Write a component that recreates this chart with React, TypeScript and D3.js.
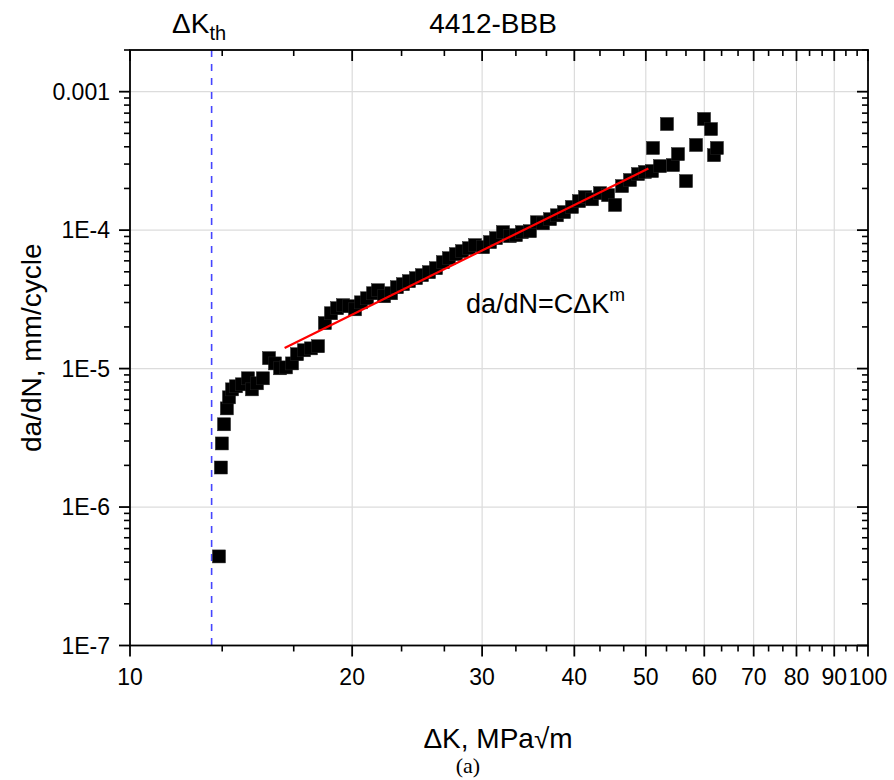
import React from 'react';
import * as d3 from 'd3';

// ΔK (MPa√m) and da/dN (mm/cycle)
const dk = [
  13.2, 13.28, 13.32, 13.41, 13.53, 13.62, 13.75, 13.92, 14.18, 14.45,
  14.63, 14.86, 15.14, 15.43, 15.72, 15.97, 16.27, 16.58, 16.84, 17.21,
  17.59, 17.98, 18.37, 18.72, 19.08, 19.44, 19.8, 20.18, 20.56, 20.95,
  21.35, 21.68, 22.09, 22.58, 23.0, 23.44, 23.88, 24.41, 24.87, 25.42,
  25.98, 26.55, 27.05, 27.65, 28.18, 28.8, 29.35, 30.09, 30.75, 31.33,
  32.02, 32.72, 33.34, 33.97, 34.83, 35.6, 36.27, 37.08, 37.89, 38.73,
  39.71, 40.59, 41.36, 42.27, 43.34, 44.44, 45.42, 46.42, 47.59, 48.8,
  49.87, 50.97, 51.13, 52.26, 53.41, 54.43, 55.28, 56.68, 58.48, 59.96,
  61.28, 61.85, 62.42,
];
const dadn = [
  4.4e-7, 1.93e-6, 2.88e-6, 3.96e-6, 5.16e-6, 6.2e-6, 7.08e-6, 7.45e-6, 7.7e-6, 8.51e-6,
  7.08e-6, 7.83e-6, 8.51e-6, 1.19e-5, 1.09e-5, 1.005e-5, 1.02e-5, 1.09e-5, 1.27e-5, 1.356e-5,
  1.4e-5, 1.45e-5, 2.13e-5, 2.51e-5, 2.73e-5, 2.87e-5, 2.82e-5, 2.68e-5, 3.01e-5, 3.22e-5,
  3.5e-5, 3.68e-5, 3.33e-5, 3.5e-5, 3.87e-5, 4.07e-5, 4.28e-5, 4.5e-5, 4.73e-5, 4.97e-5,
  5.31e-5, 5.87e-5, 6.27e-5, 6.71e-5, 7.05e-5, 7.41e-5, 7.79e-5, 7.53e-5, 8.19e-5, 8.75e-5,
  9.67e-5, 9.05e-5, 9.2e-5, 9.67e-5, 9.83e-5, 1.14e-4, 1.12e-4, 1.2e-4, 1.28e-4, 1.35e-4,
  1.47e-4, 1.62e-4, 1.73e-4, 1.67e-4, 1.85e-4, 1.79e-4, 1.52e-4, 2.08e-4, 2.3e-4, 2.54e-4,
  2.63e-4, 2.67e-4, 3.92e-4, 2.9e-4, 5.84e-4, 2.95e-4, 3.54e-4, 2.26e-4, 4.12e-4, 6.35e-4,
  5.37e-4, 3.48e-4, 3.92e-4,
];
// Paris-law fit line end points
const fitK = [16.2, 50.4];
const fitRate = [1.41e-5, 2.79e-4];
const dkThreshold = 12.9;

const xTicks = [10, 20, 30, 40, 50, 60, 70, 80, 90, 100];
const xTickLabels = ['10', '20', '30', '40', '50', '60', '70', '80', '90', '100'];
const yTicks = [1e-7, 1e-6, 1e-5, 1e-4, 1e-3];
const yTickLabels = ['1E-7', '1E-6', '1E-5', '1E-4', '0.001'];
const chartTitle = '4412-BBB';

const FONT = "'Liberation Sans', Arial, sans-serif";

export default function App() {
  const W = 894, H = 780;
  const L = 130, R = 868, T = 50, B = 645.5;
  const x = d3.scaleLog().domain([10, 100]).range([L, R]);
  const y = d3.scaleLog().domain([1e-7, 0.002]).range([B, T]);

  const xMinor: number[] = [];
  for (let i = 0; i < xTicks.length - 1; i++) {
    const a = xTicks[i], b = xTicks[i + 1];
    xMinor.push(a + (b - a) / 3, a + (2 * (b - a)) / 3);
  }
  const yMinor: number[] = [];
  for (let e = -7; e <= -3; e++) {
    for (let k = 2; k <= 9; k++) {
      const v = k * Math.pow(10, e);
      if (v <= 0.002) yMinor.push(v);
    }
  }
  const fitLine = d3.line<number>().x((d, i) => x(fitK[i])).y((d) => y(d));
  const sq = 13;

  return (
    <svg width={W} height={H} style={{ position: 'absolute', left: 0, top: 0, background: '#fff' }}
      fontFamily={FONT}>
      <rect x={0} y={0} width={W} height={H} fill="#fff" />
      {/* grid */}
      {xTicks.slice(1, -1).map((t) => (
        <line key={'gx' + t} x1={x(t)} x2={x(t)} y1={T} y2={B} stroke="#d4d4d4" strokeWidth={1} />
      ))}
      {yTicks.slice(1).map((t) => (
        <line key={'gy' + t} x1={L} x2={R} y1={y(t)} y2={y(t)} stroke="#dcdcdc" strokeWidth={1.2} />
      ))}
      {/* threshold line */}
      <line x1={x(dkThreshold)} x2={x(dkThreshold)} y1={T} y2={B} stroke="#4545ff"
        strokeWidth={1.6} strokeDasharray="7,7" />
      {/* points */}
      {dk.map((k, i) => (
        <rect key={'p' + i} x={x(k) - sq / 2} y={y(dadn[i]) - sq / 2} width={sq} height={sq}
          fill="#000" stroke="#222" strokeWidth={0.5} />
      ))}
      {/* fit line */}
      <path d={fitLine(fitRate) || ''} stroke="#ff0000" strokeWidth={2.2} fill="none" />
      {/* frame */}
      <rect x={L} y={T} width={R - L} height={B - T} fill="none" stroke="#000" strokeWidth={1.8} />
      {/* bottom & top ticks */}
      {xTicks.map((t) => (
        <g key={'xt' + t}>
          <line x1={x(t)} x2={x(t)} y1={B} y2={B + 11} stroke="#000" strokeWidth={1.8} />
          <line x1={x(t)} x2={x(t)} y1={T} y2={T + 11} stroke="#000" strokeWidth={1.8} />
        </g>
      ))}
      {xMinor.map((t, i) => (
        <g key={'xm' + i}>
          <line x1={x(t)} x2={x(t)} y1={B} y2={B + 6} stroke="#000" strokeWidth={1.6} />
          <line x1={x(t)} x2={x(t)} y1={T} y2={T + 6} stroke="#000" strokeWidth={1.6} />
        </g>
      ))}
      {xTicks.map((t, i) => (
        <text key={'xl' + t} x={x(t)} y={B + 39} textAnchor="middle" fontSize={23} fill="#000">
          {xTickLabels[i]}
        </text>
      ))}
      {/* left & right ticks */}
      {yTicks.map((t) => (
        <g key={'yt' + t}>
          <line x1={L - 11} x2={L} y1={y(t)} y2={y(t)} stroke="#000" strokeWidth={1.8} />
          <line x1={R - 11} x2={R} y1={y(t)} y2={y(t)} stroke="#000" strokeWidth={1.8} />
        </g>
      ))}
      {yMinor.map((t, i) => (
        <g key={'ym' + i}>
          <line x1={L - 6} x2={L} y1={y(t)} y2={y(t)} stroke="#000" strokeWidth={1.6} />
          <line x1={R - 6} x2={R} y1={y(t)} y2={y(t)} stroke="#000" strokeWidth={1.6} />
        </g>
      ))}
      {yTicks.map((t, i) => (
        <text key={'yl' + t} x={L - 20} y={y(t) + 8} textAnchor="end" fontSize={23} fill="#000">
          {yTickLabels[i]}
        </text>
      ))}
      {/* titles */}
      <text x={493} y={33} textAnchor="middle" fontSize={28} fill="#000">{chartTitle}</text>
      <text x={172} y={33} fontSize={28} fill="#000">
        ΔK<tspan fontSize={20} dy={7}>th</tspan>
      </text>
      <text x={498} y={748} textAnchor="middle" fontSize={28} fill="#000">ΔK, MPa√m</text>
      <text x={468} y={773} textAnchor="middle" fontSize={22} fontFamily="'Liberation Serif', 'Times New Roman', serif" fill="#000">(a)</text>
      <text transform={`translate(41, ${(T + B) / 2}) rotate(-90)`} textAnchor="middle" fontSize={28} fill="#000">
        da/dN, mm/cycle
      </text>
      <text x={466} y={313} fontSize={27} fill="#000">
        da/dN=CΔK<tspan fontSize={19} dy={-12}>m</tspan>
      </text>
    </svg>
  );
}
